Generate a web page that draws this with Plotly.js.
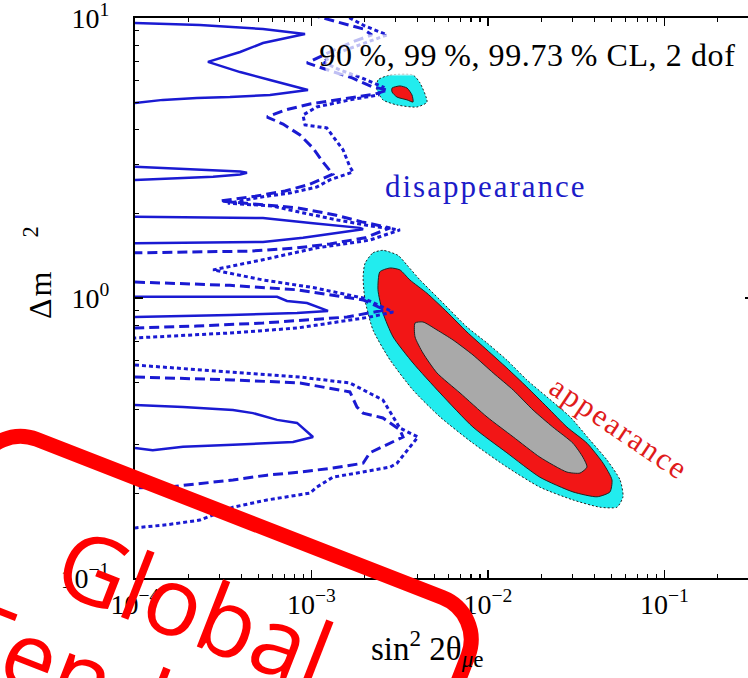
<!DOCTYPE html>
<html>
<head>
<meta charset="utf-8">
<script src="https://cdn.plot.ly/plotly-3.0.1.min.js"></script>
<style>
  html, body { margin: 0; padding: 0; overflow: hidden; background: #fff; }
  #chart { width: 753px; height: 678px; }
  .annotation[data-index="0"] text { letter-spacing: 0.6px; }
  .annotation[data-index="1"] text, .annotation[data-index="2"] text { letter-spacing: 2px; }
  .annotation[data-index="6"] text { letter-spacing: 2px; }
</style>
</head>
<body>
<div id="chart"></div>
<script>
// ---------------- data: sin^2 2theta_mue (x) vs Delta m^2 (y) ----------------

// disappearance, 90% CL (solid)
const dis90a_x = [1.0e-4, 2.33e-4, 5.31e-4, 8.28e-4, 9.19e-4, 5.31e-4, 3.94e-4, 2.59e-4, 3.94e-4, 5.82e-4, 9.55e-4, 5.82e-4, 3.45e-4, 2.24e-4, 1.44e-4, 1.0e-4];
const dis90a_y = [9.60, 9.44, 9.14, 8.84, 8.77, 8.14, 7.56, 6.97, 6.41, 6.01, 5.53, 5.31, 5.22, 5.18, 5.10, 4.97];
const dis90b_x = [1.0e-4, 2.77e-4, 3.94e-4, 4.31e-4, 3.94e-4, 2.77e-4, 1.0e-4];
const dis90b_y = [2.94, 2.87, 2.83, 2.80, 2.76, 2.71, 2.64];
const dis90c_x = [1.0e-4, 5.31e-4, 1.02e-3, 1.88e-3, 1.96e-3, 8.95e-4, 5.31e-4, 1.0e-4];
const dis90c_y = [1.95, 1.93, 1.85, 1.78, 1.76, 1.64, 1.585, 1.57];
const dis90d_x = [1.0e-4, 6.38e-4, 7.26e-4, 9.43e-4, 1.24e-3, 8.28e-4, 3.45e-4, 1.0e-4];
const dis90d_y = [1.01, 1.01, 0.976, 0.960, 0.899, 0.884, 0.870, 0.855];
const dis90e_x = [1.0e-4, 1.87e-4, 3.59e-4, 4.66e-4, 6.38e-4, 8.28e-4, 1.02e-3, 7.86e-4, 3.59e-4, 1.87e-4, 1.26e-4, 1.0e-4];
const dis90e_y = [0.415, 0.408, 0.398, 0.388, 0.367, 0.358, 0.319, 0.306, 0.299, 0.294, 0.286, 0.291];

// disappearance, 99% CL (dashed)
const dis99a_x = [9.80e-4, 1.41e-3, 1.96e-3, 2.20e-3, 1.70e-3, 1.27e-3, 1.09e-3, 9.43e-4, 1.24e-3, 1.70e-3, 2.23e-3, 2.71e-3, 2.29e-3, 1.55e-3, 9.80e-4, 7.08e-4, 5.60e-4, 6.90e-4, 8.61e-4, 1.02e-3, 1.16e-3, 1.32e-3, 9.80e-4, 7.08e-4, 4.79e-4, 3.03e-4, 4.79e-4, 8.28e-4, 1.36e-3, 1.93e-3, 2.79e-3, 2.01e-3, 1.27e-3, 8.28e-4, 4.48e-4, 2.33e-4, 1.0e-4];
const dis99a_y = [10.3, 9.68, 9.14, 8.70, 8.21, 7.56, 7.20, 6.91, 6.52, 6.11, 5.67, 5.53, 5.35, 5.14, 4.93, 4.69, 4.43, 4.18, 3.82, 3.43, 3.06, 2.77, 2.55, 2.41, 2.31, 2.22, 2.17, 2.10, 1.98, 1.87, 1.78, 1.64, 1.56, 1.51, 1.47, 1.46, 1.45];
const dis99b_x = [1.0e-4, 3.45e-4, 8.28e-4, 1.96e-3, 2.61e-3, 1.59e-3, 5.31e-4, 2.24e-4, 1.0e-4];
const dis99b_y = [1.14, 1.11, 1.07, 0.984, 0.906, 0.855, 0.814, 0.794, 0.781];
const dis99c_x = [1.0e-4, 3.59e-4, 8.61e-4, 1.65e-3, 1.81e-3, 1.96e-3, 2.54e-3, 3.17e-3, 3.30e-3, 2.79e-3, 2.14e-3, 1.96e-3, 1.32e-3, 8.61e-4, 5.60e-4, 3.59e-4, 2.33e-4, 1.52e-4, 1.0e-4];
const dis99c_y = [0.522, 0.510, 0.497, 0.462, 0.408, 0.388, 0.373, 0.338, 0.319, 0.303, 0.280, 0.257, 0.247, 0.239, 0.233, 0.224, 0.218, 0.211, 0.210];

// disappearance, 99.73% CL (dotted)
const dis997a_x = [1.51e-3, 2.01e-3, 2.68e-3, 2.01e-3, 1.45e-3, 1.16e-3, 1.45e-3, 1.93e-3, 2.54e-3, 2.38e-3, 1.65e-3, 1.07e-3, 8.95e-4, 9.19e-4, 1.22e-3, 1.51e-3, 1.65e-3, 1.72e-3, 1.27e-3, 1.07e-3, 7.55e-4, 5.31e-4, 3.36e-4, 6.05e-4, 7.55e-4, 1.40e-3, 2.14e-3, 3.17e-3, 2.14e-3, 1.07e-3, 5.31e-4, 2.77e-4, 5.31e-4, 1.02e-3, 1.96e-3, 2.90e-3, 2.14e-3, 8.28e-4, 3.45e-4, 1.0e-4];
const dis997a_y = [10.3, 9.36, 8.70, 8.14, 7.56, 6.97, 6.52, 6.11, 5.67, 5.31, 5.10, 4.81, 4.50, 4.15, 4.05, 3.38, 2.94, 2.82, 2.64, 2.49, 2.37, 2.30, 2.18, 2.13, 2.06, 1.90, 1.81, 1.75, 1.61, 1.51, 1.37, 1.26, 1.16, 1.09, 1.00, 0.891, 0.855, 0.781, 0.750, 0.720];
const dis997b_x = [1.0e-4, 3.59e-4, 8.61e-4, 1.65e-3, 2.54e-3, 2.97e-3, 3.17e-3, 4.01e-3, 3.48e-3, 3.05e-3, 2.79e-3, 1.32e-3, 1.07e-3, 9.80e-4, 5.60e-4, 3.59e-4, 2.33e-4, 1.52e-4, 1.0e-4];
const dis997b_y = [0.576, 0.544, 0.522, 0.497, 0.432, 0.367, 0.343, 0.319, 0.286, 0.257, 0.249, 0.229, 0.211, 0.201, 0.190, 0.179, 0.161, 0.155, 0.151];

// appearance allowed regions
const app997_x = [2.01e-3, 2.23e-3, 2.54e-3, 3.09e-3, 3.48e-3, 4.12e-3, 5.35e-3, 7.60e-3, 9.87e-3, 1.28e-2, 1.66e-2, 2.16e-2, 2.92e-2, 3.78e-2, 4.72e-2, 5.60e-2, 5.82e-2, 5.38e-2, 4.31e-2, 3.03e-2, 1.97e-2, 1.28e-2, 8.22e-3, 5.35e-3, 3.76e-3, 2.79e-3, 2.23e-3, 2.01e-3, 1.96e-3, 2.01e-3];
const app997_y = [1.33, 1.45, 1.48, 1.42, 1.31, 1.16, 0.984, 0.788, 0.691, 0.600, 0.510, 0.443, 0.376, 0.311, 0.264, 0.224, 0.195, 0.179, 0.179, 0.190, 0.211, 0.249, 0.303, 0.376, 0.469, 0.600, 0.769, 0.984, 1.19, 1.33];
const app99_x = [2.44e-3, 2.79e-3, 3.17e-3, 3.61e-3, 4.51e-3, 5.86e-3, 7.60e-3, 9.87e-3, 1.28e-2, 1.66e-2, 2.16e-2, 2.80e-2, 3.64e-2, 4.49e-2, 5.04e-2, 4.91e-2, 4.15e-2, 3.03e-2, 1.97e-2, 1.28e-2, 8.22e-3, 5.35e-3, 3.76e-3, 2.90e-3, 2.54e-3, 2.38e-3, 2.44e-3];
const app99_y = [1.24, 1.28, 1.26, 1.16, 1.04, 0.891, 0.756, 0.652, 0.562, 0.481, 0.408, 0.346, 0.303, 0.257, 0.224, 0.203, 0.195, 0.203, 0.229, 0.280, 0.346, 0.458, 0.586, 0.726, 0.884, 1.07, 1.24];
const app90_x = [3.86e-3, 4.28e-3, 5.14e-3, 6.34e-3, 8.22e-3, 1.07e-2, 1.39e-2, 1.80e-2, 2.33e-2, 3.03e-2, 3.45e-2, 3.64e-2, 3.32e-2, 2.80e-2, 1.97e-2, 1.39e-2, 9.87e-3, 6.94e-3, 5.14e-3, 4.28e-3, 3.86e-3, 3.86e-3];
const app90_y = [0.814, 0.821, 0.769, 0.708, 0.626, 0.540, 0.469, 0.398, 0.346, 0.303, 0.270, 0.249, 0.237, 0.239, 0.270, 0.319, 0.376, 0.458, 0.540, 0.636, 0.726, 0.814];
const isl997_x = [2.38e-3, 2.79e-3, 3.76e-3, 4.12e-3, 4.51e-3, 3.96e-3, 3.05e-3, 2.54e-3, 2.35e-3, 2.38e-3];
const isl997_y = [6.01, 6.26, 6.26, 5.86, 5.01, 4.81, 4.89, 5.10, 5.53, 6.01];
const isl99_x = [2.86e-3, 3.17e-3, 3.48e-3, 3.71e-3, 3.76e-3, 3.48e-3, 3.05e-3, 2.86e-3, 2.86e-3];
const isl99_y = [5.62, 5.72, 5.62, 5.31, 5.01, 5.10, 5.22, 5.44, 5.62];

// axis ticks (decades) and their labels
const xTickVals = [1e-4, 1e-3, 1e-2, 1e-1];
const xTickText = ['10<sup>\u22124</sup>', '10<sup>\u22123</sup>', '10<sup>\u22122</sup>', '10<sup>\u22121</sup>'];
const yTickVals = [1e-1, 1e0, 1e1];
const yTickText = ['10<sup>\u22121</sup>', '10<sup>0</sup>', '10<sup>1</sup>'];

// ---------------- styling ----------------
const BLUE = '#1a1ad2';
const CYAN = '#22ecee';
const RED = '#f21616';
const GREY = '#a9a9a9';
const SERIF = 'Liberation Serif, Times New Roman, serif';

const traces = [];
function region(x, y, fill, dash) {
  traces.push({
    type: 'scatter', mode: 'lines', x: x, y: y,
    fill: 'toself', fillcolor: fill,
    line: { color: '#222', width: 1, dash: dash, shape: 'spline', smoothing: 0.6 },
    hoverinfo: 'skip'
  });
}
function contour(x, y, dash, width) {
  traces.push({
    type: 'scatter', mode: 'lines', x: x, y: y,
    line: { color: BLUE, width: width, dash: dash },
    hoverinfo: 'skip'
  });
}

region(app997_x, app997_y, CYAN, '2px,2px');
region(app99_x, app99_y, RED, 'solid');
region(app90_x, app90_y, GREY, 'solid');
region(isl997_x, isl997_y, CYAN, '2px,2px');
region(isl99_x, isl99_y, RED, 'solid');

const DOT = '4px,3px', DASH = '10px,5px';
contour(dis997a_x, dis997a_y, DOT, 3);
contour(dis997b_x, dis997b_y, DOT, 3);
contour(dis99a_x, dis99a_y, DASH, 3);
contour(dis99b_x, dis99b_y, DASH, 3);
contour(dis99c_x, dis99c_y, DASH, 3);
contour(dis90a_x, dis90a_y, 'solid', 2.5);
contour(dis90b_x, dis90b_y, 'solid', 2.5);
contour(dis90c_x, dis90c_y, 'solid', 2.5);
contour(dis90d_x, dis90d_y, 'solid', 2.5);
contour(dis90e_x, dis90e_y, 'solid', 2.5);

// empty trace that carries the overlay axes used for the short (minor) ticks
traces.push({ type: 'scatter', mode: 'lines', x: [], y: [], xaxis: 'x2', yaxis: 'y2', hoverinfo: 'skip' });

// ---------------- page geometry ----------------
const W = 753, H = 678;
const M = { l: 135, r: 0, t: 18, b: 100 };
const plotW = W - M.l - M.r, plotH = H - M.t - M.b;
const X_RANGE = [-4, -4 + plotW / 176.5];
const Y_RANGE = [-1, 1];
function paperX(px) { return (px - M.l) / plotW; }
function paperY(py) { return (H - M.b - py) / plotH; }

// minor tick positions: 2..9 within each decade
function minorTicks(lo, hi) {
  const out = [];
  for (let e = lo; e < hi; e++) for (let m = 2; m <= 9; m++) out.push(m * Math.pow(10, e));
  return out;
}

// rotated, rounded rectangle of the stamp, as a paper-referenced path
function stampPath(cx, cy, w, h, deg, r) {
  const a = deg * Math.PI / 180, c = Math.cos(a), s = Math.sin(a), k = 0.5523 * r;
  const hw = w / 2, hh = h / 2;
  const pt = (x, y) => {
    const X = cx + x * c - y * s, Y = cy + x * s + y * c;
    return paperX(X).toFixed(5) + ',' + paperY(Y).toFixed(5);
  };
  return 'M' + pt(-hw + r, -hh) +
    ' L' + pt(hw - r, -hh) +
    ' C' + pt(hw - r + k, -hh) + ' ' + pt(hw, -hh + r - k) + ' ' + pt(hw, -hh + r) +
    ' L' + pt(hw, hh - r) +
    ' C' + pt(hw, hh - r + k) + ' ' + pt(hw - r + k, hh) + ' ' + pt(hw - r, hh) +
    ' L' + pt(-hw + r, hh) +
    ' C' + pt(-hw + r - k, hh) + ' ' + pt(-hw, hh - r + k) + ' ' + pt(-hw, hh - r) +
    ' L' + pt(-hw, -hh + r) +
    ' C' + pt(-hw, -hh + r - k) + ' ' + pt(-hw + r - k, -hh) + ' ' + pt(-hw + r, -hh) + ' Z';
}
const STAMP_ANGLE = 21.3;

const axisCommon = {
  type: 'log', showgrid: false, zeroline: false, tickmode: 'array',
  ticks: 'inside', tickcolor: '#000', mirror: 'ticks', ticklabeloverflow: 'allow'
};

const layout = {
  width: W, height: H, margin: M,
  paper_bgcolor: '#fff', plot_bgcolor: '#fff',
  showlegend: false, hovermode: false,
  xaxis: Object.assign({}, axisCommon, {
    range: X_RANGE, tickvals: xTickVals, ticktext: xTickText,
    showline: true, linecolor: '#000', linewidth: 2, ticklen: 8, tickwidth: 1.5,
    tickfont: { family: SERIF, size: 28, color: '#000' }
  }),
  yaxis: Object.assign({}, axisCommon, {
    range: Y_RANGE, tickvals: yTickVals, ticktext: yTickText,
    showline: true, linecolor: '#000', linewidth: 2, ticklen: 8, tickwidth: 1.5,
    ticklabelstandoff: 18,
    tickfont: { family: SERIF, size: 28, color: '#000' }
  }),
  xaxis2: Object.assign({}, axisCommon, {
    overlaying: 'x', range: X_RANGE, tickvals: minorTicks(-4, 0),
    showticklabels: false, showline: false, ticklen: 4, tickwidth: 1.2
  }),
  yaxis2: Object.assign({}, axisCommon, {
    overlaying: 'y', range: Y_RANGE, tickvals: minorTicks(-1, 1),
    showticklabels: false, showline: false, ticklen: 4, tickwidth: 1.2
  }),
  annotations: [
    { xref: 'paper', yref: 'paper', x: paperX(527), y: paperY(55), xanchor: 'center', yanchor: 'middle', showarrow: false,
      text: '90\u2009%, 99\u2009%, 99.73\u2009% CL, 2 dof',
      font: { family: SERIF, size: 32, color: '#000' }, bgcolor: 'rgba(255,255,255,0.72)', borderpad: 2 },
    { xref: 'paper', yref: 'paper', x: paperX(486), y: paperY(186), xanchor: 'center', yanchor: 'middle', showarrow: false,
      text: 'disappearance', font: { family: SERIF, size: 31, color: '#1c1cc8' } },
    { xref: 'paper', yref: 'paper', x: paperX(619), y: paperY(427), xanchor: 'center', yanchor: 'middle', showarrow: false,
      textangle: 34, text: 'appearance', font: { family: SERIF, size: 31, color: '#e01b1b' } },
    { xref: 'paper', yref: 'paper', x: paperX(195), y: paperY(606), xanchor: 'center', yanchor: 'middle', showarrow: false,
      textangle: STAMP_ANGLE, text: 'Global', font: { family: 'Open Sans', size: 95, color: '#ff0000' } },
    { xref: 'paper', yref: 'paper', x: paperX(157), y: paperY(702), xanchor: 'center', yanchor: 'middle', showarrow: false,
      textangle: STAMP_ANGLE, text: 'Tendency', font: { family: 'Open Sans', size: 95, color: '#ff0000' } },
    // axis titles
    { xref: 'paper', yref: 'paper', x: paperX(427), y: paperY(648), xanchor: 'center', yanchor: 'middle', showarrow: false,
      text: 'sin<sup>2</sup> 2θ<sub><i>μ</i>e</sub>', font: { family: SERIF, size: 33, color: '#000' } },
    { xref: 'paper', yref: 'paper', x: paperX(38), y: paperY(272), xanchor: 'center', yanchor: 'middle', showarrow: false,
      textangle: -90, text: 'Δm<sup>\u2003 2</sup>', font: { family: SERIF, size: 32, color: '#000' } }
  ],
  shapes: [
    { type: 'path', xref: 'paper', yref: 'paper', layer: 'above',
      path: stampPath(188.8, 648.9, 525.4, 280, STAMP_ANGLE, 45),
      line: { color: '#ff0000', width: 15 }, fillcolor: 'rgba(0,0,0,0)' }
  ]
};

Plotly.newPlot('chart', traces, layout, { staticPlot: true, displayModeBar: false });
</script>
</body>
</html>
